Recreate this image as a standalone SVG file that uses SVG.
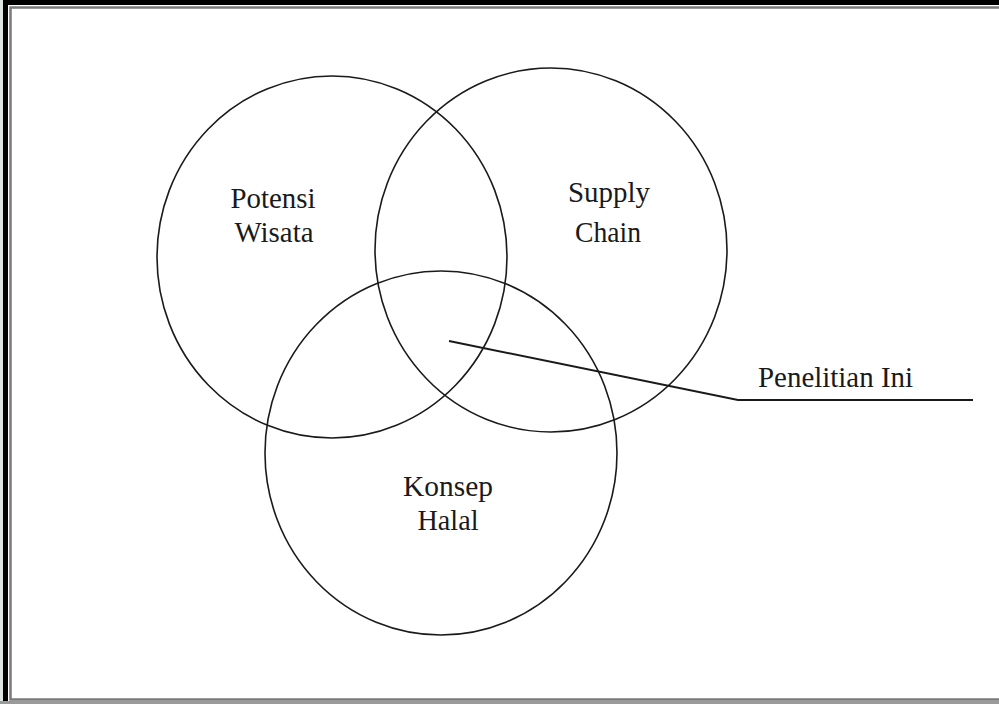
<svg xmlns="http://www.w3.org/2000/svg" width="999" height="704" viewBox="0 0 999 704">
  <style>
    .set { fill: none; stroke: #1a1a1a; stroke-width: 1.6; }
    .lbl { font-family: "Liberation Serif", "Times New Roman", serif; font-size: 30px; fill: #1a1a1a; }
    .mid { text-anchor: middle; }
    .lead { fill: none; stroke: #1a1a1a; stroke-width: 2; }
  </style>

  <!-- page background and frame -->
  <rect x="0" y="0" width="999" height="704" fill="#ffffff"/>
  <rect x="0" y="0" width="3" height="704" fill="#dfe5e1"/>
  <rect x="3" y="0" width="5" height="704" fill="#000000"/>
  <rect x="3" y="0" width="996" height="5" fill="#000000"/>
  <rect x="10.5" y="7.5" width="1000" height="692" fill="none" stroke="#7a7a7a" stroke-width="2.5"/>
  <rect x="0" y="701" width="999" height="3" fill="#9a9a9a"/>

  <!-- Venn sets -->
  <g id="potensi-wisata">
    <ellipse class="set" cx="332" cy="257" rx="175" ry="181"/>
    <text class="lbl mid" x="273" y="208" textLength="85" lengthAdjust="spacingAndGlyphs">Potensi</text>
    <text class="lbl mid" x="274" y="242" textLength="79" lengthAdjust="spacingAndGlyphs">Wisata</text>
  </g>

  <g id="supply-chain">
    <ellipse class="set" cx="551" cy="250" rx="176" ry="182"/>
    <text class="lbl mid" x="609" y="202" textLength="82" lengthAdjust="spacingAndGlyphs">Supply</text>
    <text class="lbl mid" x="608" y="242" textLength="66" lengthAdjust="spacingAndGlyphs">Chain</text>
  </g>

  <g id="konsep-halal">
    <ellipse class="set" cx="441" cy="453" rx="176" ry="182"/>
    <text class="lbl mid" x="448" y="496" textLength="90" lengthAdjust="spacingAndGlyphs">Konsep</text>
    <text class="lbl mid" x="448" y="530" textLength="61" lengthAdjust="spacingAndGlyphs">Halal</text>
  </g>

  <!-- leader from the shared intersection to its label -->
  <g id="connectors">
    <polyline class="lead" points="449,341 738,400 973,400"/>
  </g>

  <g id="penelitian-ini">
    <text class="lbl" x="758" y="387" textLength="155" lengthAdjust="spacingAndGlyphs">Penelitian Ini</text>
  </g>
</svg>
